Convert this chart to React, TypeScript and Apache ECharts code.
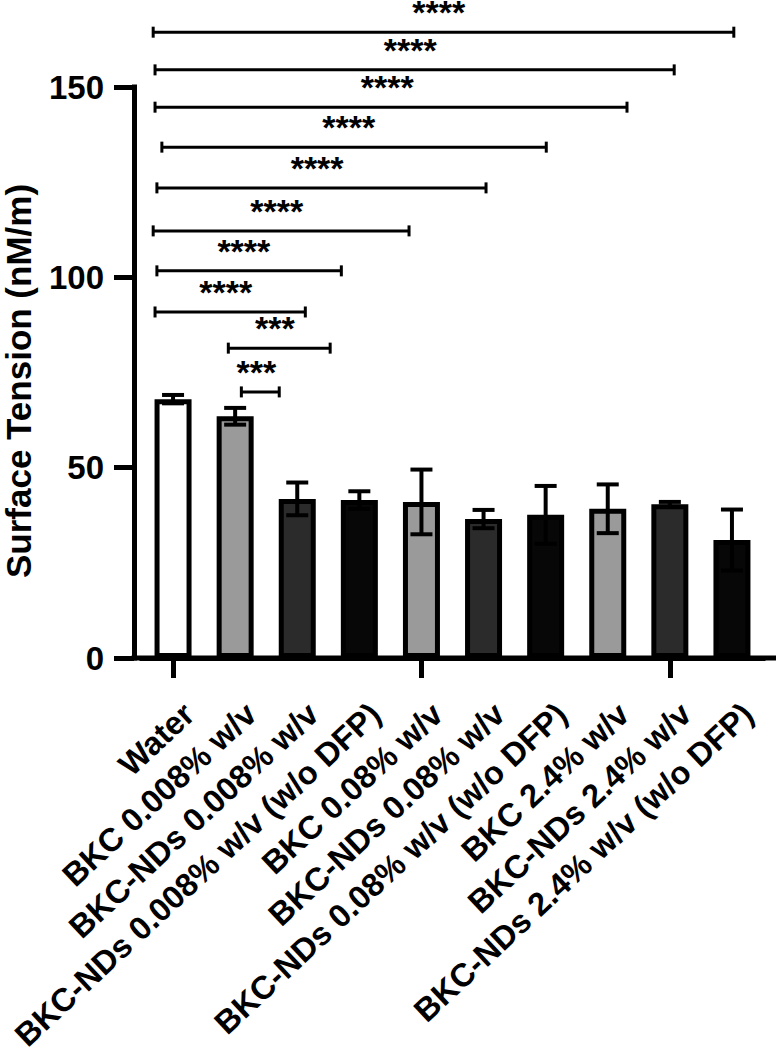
import React, { useEffect, useRef } from "react";
import * as echarts from "echarts";

// Groups on the x axis
const categories = [
  "Water",
  "BKC 0.008% w/v",
  "BKC-NDs 0.008% w/v",
  "BKC-NDs 0.008% w/v (w/o DFP)",
  "BKC 0.08% w/v",
  "BKC-NDs 0.08% w/v",
  "BKC-NDs 0.08% w/v (w/o DFP)",
  "BKC 2.4% w/v",
  "BKC-NDs 2.4% w/v",
  "BKC-NDs 2.4% w/v (w/o DFP)",
];

// Mean surface tension (nM/m) and standard deviation per group
const means = [68, 63.5, 41.8, 41.5, 41, 36.5, 37.6, 39.2, 40.4, 31];
const sds = [1.1, 2.2, 4.3, 2.3, 8.5, 2.4, 7.6, 6.4, 0.6, 8.0];

// Bar fills (white / grey / dark grey / black pattern)
const fills = [
  "#ffffff", "#9a9a9a", "#2b2b2b", "#070707",
  "#9a9a9a", "#2b2b2b", "#070707",
  "#9a9a9a", "#2b2b2b", "#070707",
];

// Significance brackets: start / end (category position), height (nM/m), stars, star position
const bracketFrom = [-0.32, -0.29, -0.29, -0.18, -0.26, -0.32, -0.26, -0.29, 0.89, 1.1];
const bracketTo = [9.03, 8.07, 7.31, 6.01, 5.04, 3.8, 2.71, 2.13, 2.53, 1.71];
const bracketLevel = [164.4, 154.5, 144.7, 134.2, 123.5, 112.2, 101.7, 90.9, 81.4, 69.9];
const bracketStars = ["****", "****", "****", "****", "****", "****", "****", "****", "***", "***"];
const starAt = [4.28, 3.82, 3.45, 2.83, 2.32, 1.67, 1.14, 0.85, 1.64, 1.34];

const FONT = '"Liberation Sans", Arial, Helvetica, sans-serif';
const STAR_LIFT = 5.3;
const LABEL_ANGLE = (43 * Math.PI) / 180;

export default function App() {
  const ref = useRef<HTMLDivElement>(null);

  useEffect(() => {
    if (!ref.current) return;
    const chart = echarts.init(ref.current, undefined, { renderer: "svg" });

    const option: any = {
      animation: false,
      backgroundColor: "#ffffff",
      grid: { left: 142, right: 14, top: 87, bottom: 391, outerBoundsMode: "none" },
      xAxis: {
        type: "category",
        data: categories,
        axisLine: { show: true, lineStyle: { color: "#000", width: 5, cap: "square" } },
        axisTick: { show: true, alignWithLabel: true, length: 20, lineStyle: { color: "#000", width: 5 } },
        axisLabel: { show: false },
        splitLine: { show: false },
      },
      yAxis: {
        type: "value",
        min: 0,
        max: 150,
        interval: 50,
        offset: 8,
        name: "Surface Tension (nM/m)",
        nameLocation: "middle",
        nameGap: 98,
        nameTextStyle: {
          color: "#000",
          fontSize: 35,
          fontWeight: "bold",
          fontFamily: FONT,
          padding: [0, 17, 0, 0],
        },
        axisLine: { show: true, lineStyle: { color: "#000", width: 5, cap: "square" } },
        axisTick: { show: true, length: 20, lineStyle: { color: "#000", width: 5 } },
        axisLabel: {
          margin: 30,
          color: "#000",
          fontSize: 33,
          fontWeight: "bold",
          fontFamily: FONT,
        },
        splitLine: { show: false },
      },
      series: [
        {
          type: "bar",
          barWidth: 37,
          data: means.map((v, i) => ({ value: v, itemStyle: { color: fills[i] } })),
          itemStyle: { borderColor: "#000", borderWidth: 5 },
          z: 2,
        },
        {
          // mean ± SD error bars
          type: "custom",
          z: 3,
          data: means.map((m, i) => [i, m + sds[i], m - sds[i]]),
          encode: { x: 0, y: [1, 2] },
          renderItem: (params: any, api: any) => {
            const hi = api.coord([api.value(0), api.value(1)]);
            const lo = api.coord([api.value(0), api.value(2)]);
            const half = 11;
            const style = { stroke: "#000", lineWidth: 4 };
            return {
              type: "group",
              children: [
                { type: "line", shape: { x1: hi[0], y1: hi[1], x2: lo[0], y2: lo[1] }, style },
                { type: "line", shape: { x1: hi[0] - half, y1: hi[1], x2: hi[0] + half, y2: hi[1] }, style },
                { type: "line", shape: { x1: lo[0] - half, y1: lo[1], x2: lo[0] + half, y2: lo[1] }, style },
              ],
            };
          },
        },
        {
          // rotated category labels under the x axis
          type: "custom",
          z: 5,
          clip: false,
          silent: true,
          data: categories.map((c, i) => [i, 0]),
          encode: { x: 0, y: 1 },
          renderItem: (params: any, api: any) => {
            const p = api.coord([api.value(0), 0]);
            return {
              type: "text",
              x: p[0] + 16,
              y: p[1] + 51,
              rotation: LABEL_ANGLE,
              style: {
                text: categories[params.dataIndex],
                fill: "#000",
                font: `bold 32.5px ${FONT}`,
                align: "right",
                verticalAlign: "middle",
                lineHeight: 26,
              },
            };
          },
        },
        {
          // significance brackets with stars
          type: "custom",
          z: 4,
          clip: false,
          data: bracketLevel.map((lv, i) => [i, lv]),
          encode: { x: 0, y: 1 },
          renderItem: (params: any, api: any) => {
            const i = params.dataIndex;
            const base = api.coord([0, bracketLevel[i]]);
            const band = api.size([1, 0])[0];
            const x1 = base[0] + bracketFrom[i] * band;
            const x2 = base[0] + bracketTo[i] * band;
            const y = base[1];
            const ty = api.coord([0, bracketLevel[i] + STAR_LIFT])[1];
            const tx = base[0] + starAt[i] * band;
            const style = { stroke: "#000", lineWidth: 3 };
            const cap = 5.5;
            return {
              type: "group",
              children: [
                { type: "line", shape: { x1, y1: y, x2, y2: y }, style },
                { type: "line", shape: { x1, y1: y - cap, x2: x1, y2: y + cap }, style },
                { type: "line", shape: { x1: x2, y1: y - cap, x2, y2: y + cap }, style },
                {
                  type: "text",
                  x: tx,
                  y: ty,
                  style: {
                    text: bracketStars[i],
                    fill: "#000",
                    font: `bold 34px ${FONT}`,
                    align: "center",
                    verticalAlign: "middle",
                  },
                },
              ],
            };
          },
        },
      ],
    };

    chart.setOption(option);

    // extend the x axis line across the full baseline, from the y axis to the right edge
    const y0 = chart.convertToPixel({ yAxisIndex: 0 }, 0) as number;
    const firstCenter = chart.convertToPixel({ xAxisIndex: 0 }, 0) as number;
    const band = (chart.convertToPixel({ xAxisIndex: 0 }, 1) as number) - firstCenter;
    const axisX = firstCenter - band / 2 - 8;
    chart.setOption({
      graphic: [
        {
          type: "line",
          shape: { x1: axisX - 2.5, y1: y0, x2: 776, y2: y0 },
          style: { stroke: "#000", lineWidth: 5 },
          z: 10,
        },
      ],
    });

    return () => chart.dispose();
  }, []);

  return (
    <div
      ref={ref}
      style={{ position: "fixed", left: 0, top: 0, width: 777, height: 1049, background: "#fff" }}
    />
  );
}
